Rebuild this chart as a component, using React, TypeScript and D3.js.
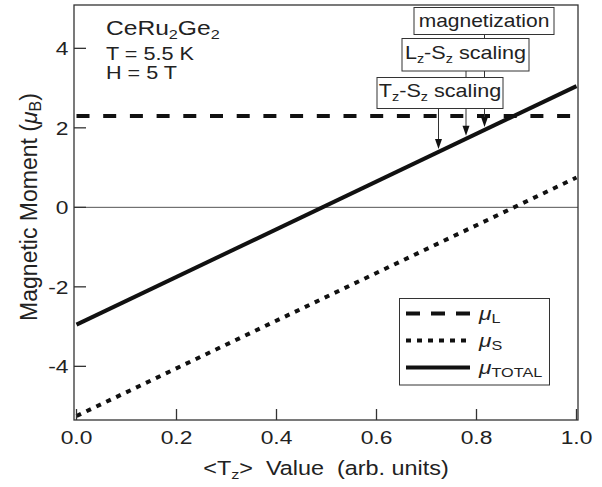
import React from 'react';
import * as d3 from 'd3';

// <Tz> value (arb. units) at the two ends of each line
const tzValues = [0, 1];
const muL = [2.3, 2.3];
const muS = [-5.25, 0.75];
const muTotal = [-2.95, 3.05];

const xTicks = [0, 0.2, 0.4, 0.6, 0.8, 1.0];
const yTicks = [-4, -2, 0, 2, 4];

// where each scaling method lands on the total line
const arrowTz = [0.724, 0.779, 0.816];

const FONT = '"Liberation Sans", Arial, Helvetica, sans-serif';
const INK = '#222';
const SX = 1.2; // the figure's lettering is set a bit wide

const W = 602, H = 487;
const left = 74, right = 578, top = 5, bottom = 420;

function Sub({ children, size = 12, d = 4 }: { children: React.ReactNode; size?: number; d?: number }) {
  return <tspan fontSize={size} dy={d}>{children}</tspan>;
}

// wide text: scaled horizontally about its anchor
function T({ x, y, size, anchor = 'start', children }:
  { x: number; y: number; size: number; anchor?: string; children: React.ReactNode }) {
  return (
    <text transform={`translate(${x},${y}) scale(${SX},1)`} fontSize={size}
      textAnchor={anchor as any} fill={INK} xmlSpace="preserve">
      {children}
    </text>
  );
}

export default function App() {
  const x = d3.scaleLinear().domain([-0.005, 1.003]).range([left, right]);
  const y = d3.scaleLinear().domain([-5.35, 5.09]).range([bottom, top]);

  const line = d3.line<number>()
    .x((_, i) => x(tzValues[i]))
    .y(d => y(d));

  const totalAt = d3.scaleLinear().domain(tzValues).range(muTotal);

  const legendRows = [
    { dash: '14 11', label: 'L' },
    { dash: '5 6', label: 'S' },
    { dash: null, label: 'TOTAL' },
  ];

  return (
    <svg width={W} height={H} style={{ display: 'block', position: 'absolute', left: 0, top: 0 }}
      fontFamily={FONT}>
      <rect width={W} height={H} fill="#fff" />

      {/* zero line */}
      <line x1={left} x2={right} y1={y(0)} y2={y(0)} stroke="#555" strokeWidth={1} />

      {/* data lines */}
      <path d={line(muL) || ''} fill="none" stroke="#111" strokeWidth={4} strokeDasharray="13 13.7" />
      <path d={line(muS) || ''} fill="none" stroke="#111" strokeWidth={4} strokeDasharray="5 6" />
      <path d={line(muTotal) || ''} fill="none" stroke="#111" strokeWidth={4} />

      {/* arrows from the annotation boxes */}
      {arrowTz.map((t, i) => {
        const ax = x(t);
        const tip = y(totalAt(t)) - 3;
        const y0 = [108, 71, 34][i];
        return (
          <g key={i}>
            <line x1={ax} x2={ax} y1={y0} y2={tip - 8} stroke="#333" strokeWidth={1} />
            <path d={`M${ax - 3.5},${tip - 10}L${ax + 3.5},${tip - 10}L${ax},${tip}Z`} fill="#111" />
          </g>
        );
      })}

      {/* annotation boxes */}
      <rect x={414} y={7.5} width={140} height={27} fill="#fff" stroke="#333" strokeWidth={1} />
      <T x={484} y={27} size={17.5} anchor="middle">magnetization</T>
      <rect x={402} y={38.5} width={127} height={32.5} fill="#fff" stroke="#333" strokeWidth={1} />
      <T x={465.5} y={59} size={18} anchor="middle">L<Sub>z</Sub><tspan dy={-4}>-S</tspan><Sub>z</Sub><tspan dy={-4}> scaling</tspan></T>
      <rect x={377} y={77.5} width={126} height={31} fill="#fff" stroke="#333" strokeWidth={1} />
      <T x={440} y={97} size={18} anchor="middle">T<Sub>z</Sub><tspan dy={-4}>-S</tspan><Sub>z</Sub><tspan dy={-4}> scaling</tspan></T>

      {/* sample info */}
      <T x={106} y={35} size={20.5}>CeRu<Sub size={13.5}>2</Sub><tspan dy={-4}>Ge</tspan><Sub size={13.5}>2</Sub></T>
      <T x={106} y={60} size={18}>T = 5.5 K</T>
      <T x={106} y={79} size={18}>H = 5 T</T>

      {/* legend */}
      <rect x={399.5} y={298.5} width={150} height={86.5} fill="#fff" stroke="#333" strokeWidth={1} />
      {legendRows.map((r, i) => {
        const ly = 313.5 + i * 27;
        return (
          <g key={r.label}>
            <line x1={406} x2={470} y1={ly} y2={ly} stroke="#111" strokeWidth={4}
              strokeDasharray={r.dash || undefined} />
            <T x={479} y={ly + 6} size={19}>
              <tspan fontStyle="italic">μ</tspan><Sub size={13.5} d={3}>{r.label}</Sub>
            </T>
          </g>
        );
      })}

      {/* frame */}
      <rect x={left} y={top} width={right - left} height={bottom - top} fill="none" stroke="#333" strokeWidth={1.3} />

      {/* x axis */}
      {xTicks.map(t => (
        <g key={t}>
          <line x1={x(t)} x2={x(t)} y1={bottom} y2={bottom - 11} stroke="#333" strokeWidth={1.3} />
          <T x={x(t)} y={444} size={19} anchor="middle">{d3.format('.1f')(t)}</T>
        </g>
      ))}
      <T x={(left + right) / 2} y={475} size={19.5} anchor="middle">
        &lt;T<Sub size={13.5}>z</Sub><tspan dy={-4}>&gt;  Value  (arb. units)</tspan>
      </T>

      {/* y axis */}
      {yTicks.map(t => (
        <g key={t}>
          <line x1={left} x2={left + 12} y1={y(t)} y2={y(t)} stroke="#333" strokeWidth={1.3} />
          <T x={68.5} y={y(t) + 6.7} size={19} anchor="end">{String(t)}</T>
        </g>
      ))}
      <text transform={`translate(37,207) rotate(-90)`} textAnchor="middle" fontSize={23} fill={INK}>
        Magnetic Moment (<tspan fontStyle="italic">μ</tspan><tspan fontSize={16} dy={4}>B</tspan><tspan dy={-4}>)</tspan>
      </text>
    </svg>
  );
}
